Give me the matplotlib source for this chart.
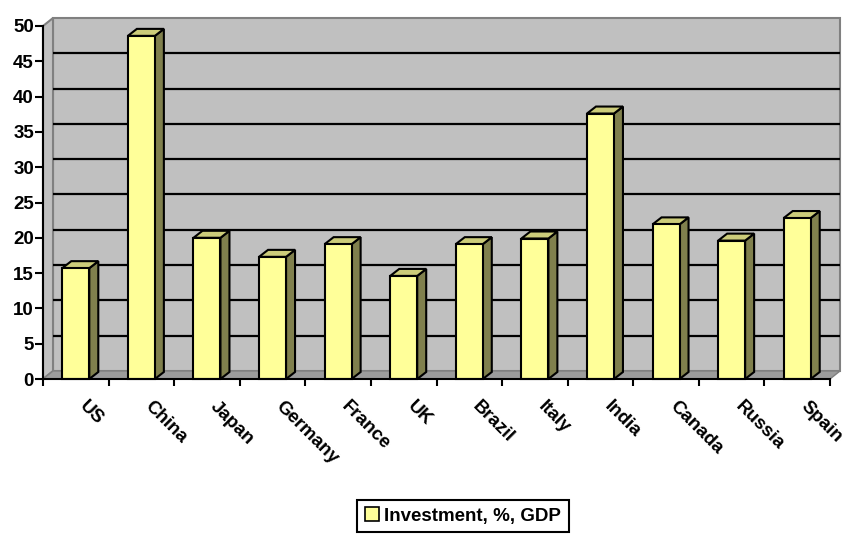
import matplotlib
matplotlib.use("Agg")
import matplotlib.pyplot as plt
from matplotlib.patches import Polygon, Patch
from matplotlib.transforms import offset_copy

# data
countries = ["US", "China", "Japan", "Germany", "France", "UK",
             "Brazil", "Italy", "India", "Canada", "Russia", "Spain"]
investment = [15.7, 48.6, 20.0, 17.3, 19.1, 14.6,
              19.1, 19.9, 37.6, 21.9, 19.6, 22.8]
series_name = "Investment, %, GDP"
yticks = list(range(0, 55, 5))

plt.rcParams["font.family"] = ["Liberation Sans", "DejaVu Sans"]
plt.rcParams["font.weight"] = "bold"
FS = 13.5

FACE = "#FFFF99"
SIDE = "#80804D"
TOP = "#CCCC7A"
WALL = "#C0C0C0"
WALL_EDGE = "#808080"
FLOOR = "#9C9C9C"

fig = plt.figure(figsize=(8.47, 5.36), dpi=100)
ax = fig.add_axes([43 / 847, 1 - 379 / 536, (830 - 43) / 847, (379 - 26) / 536])

n = len(countries)
ymax = 50
ax.set_xlim(0, n)
ax.set_ylim(0, ymax)

# pseudo-3D depth offsets in data units (px / px-per-unit)
px_x = (830 - 43) / n
px_y = (379 - 26) / ymax
wdx, wdy = 10 / px_x, 8 / px_y      # wall depth
bdx, bdy = 9 / px_x, 7 / px_y       # bar depth

# back wall, left wall, floor
ax.add_patch(Polygon([(wdx, wdy), (n + wdx, wdy), (n + wdx, ymax + wdy), (wdx, ymax + wdy)],
                     closed=True, fc=WALL, ec=WALL_EDGE, lw=1.5, clip_on=False, zorder=1))
ax.add_patch(Polygon([(0, 0), (wdx, wdy), (wdx, ymax + wdy), (0, ymax)],
                     closed=True, fc=WALL, ec=WALL_EDGE, lw=1.5, clip_on=False, zorder=1))
ax.add_patch(Polygon([(0, 0), (n, 0), (n + wdx, wdy), (wdx, wdy)],
                     closed=True, fc=FLOOR, ec=WALL_EDGE, lw=1.0, clip_on=False, zorder=1.5))

# gridlines on the back wall
for v in yticks[1:-1]:
    ax.plot([wdx, n + wdx], [v + wdy, v + wdy], color="black", lw=1.6,
            clip_on=False, zorder=2, solid_capstyle="butt")

# columns
w = 27 / px_x
for i, v in enumerate(investment):
    x0 = i + 0.5 - w / 2
    x1 = x0 + w
    ax.add_patch(Polygon([(x1, 0), (x1 + bdx, bdy), (x1 + bdx, v + bdy), (x1, v)],
                         closed=True, fc=SIDE, ec="black", lw=1.5, zorder=3,
                         joinstyle="miter", clip_on=False))
    ax.add_patch(Polygon([(x0, v), (x1, v), (x1 + bdx, v + bdy), (x0 + bdx, v + bdy)],
                         closed=True, fc=TOP, ec="black", lw=1.5, zorder=3,
                         joinstyle="miter", clip_on=False))
    ax.add_patch(Polygon([(x0, 0), (x1, 0), (x1, v), (x0, v)],
                         closed=True, fc=FACE, ec="black", lw=1.5, zorder=4,
                         joinstyle="miter", clip_on=False))

# axes
for s in ["top", "right"]:
    ax.spines[s].set_visible(False)
for s in ["left", "bottom"]:
    ax.spines[s].set_color("black")
    ax.spines[s].set_linewidth(1.5)
    ax.spines[s].set_zorder(5)

ax.set_yticks(yticks)
ax.set_yticklabels([str(t) for t in yticks], fontsize=FS, fontweight="bold")
ax.tick_params(axis="y", direction="out", length=5.5, width=1.5, pad=1)

ax.set_xticks(range(n + 1))
ax.set_xticklabels([])
ax.tick_params(axis="x", direction="out", length=5, width=1.5)

label_tr = offset_copy(ax.get_xaxis_transform(), fig=fig, x=12, y=-19, units="dots")
for i, name in enumerate(countries):
    ax.text(i + 0.5, 0, name, transform=label_tr, rotation=-45,
            rotation_mode="anchor", ha="left", va="top",
            fontsize=FS, fontweight="bold")

ax.set_facecolor("none")

leg = fig.legend(handles=[Patch(fc=FACE, ec="black", lw=1.2, label=series_name)],
                 loc="center", bbox_to_anchor=(463 / 847, 1 - 516 / 536),
                 frameon=True, fancybox=False, edgecolor="black", framealpha=1,
                 prop={"size": FS, "weight": "bold"}, handlelength=0.75,
                 handleheight=0.75, handletextpad=0.3, borderpad=0.4)
leg.get_frame().set_linewidth(1.5)

fig.savefig("out.png", dpi=100)
